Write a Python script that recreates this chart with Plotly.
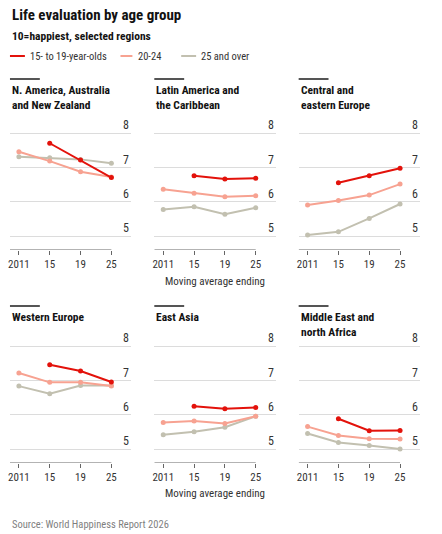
import plotly.graph_objects as go

years = ["2011", "15", "19", "25"]
regions = ["N. America, Australia<br>and New Zealand", "Latin America and<br>the Caribbean",
           "Central and<br>eastern Europe", "Western Europe", "East Asia",
           "Middle East and<br>north Africa"]
series_names = ["15- to 19-year-olds", "20-24", "25 and over"]

age_15_19 = [[None, 7.71, 7.22, 6.71], [None, 6.76, 6.67, 6.69], [None, 6.56, 6.76, 6.98],
             [None, 7.46, 7.28, 6.96], [None, 6.25, 6.18, 6.22], [None, 5.89, 5.54, 5.55]]
age_20_24 = [[7.46, 7.19, 6.88, 6.73], [6.37, 6.25, 6.15, 6.18], [5.91, 6.04, 6.20, 6.52],
             [7.22, 6.95, 6.95, 6.84], [5.78, 5.82, 5.75, 5.96], [5.66, 5.40, 5.31, 5.30]]
age_25_plus = [[7.32, 7.29, 7.24, 7.13], [5.78, 5.86, 5.64, 5.83], [5.04, 5.13, 5.52, 5.94],
               [6.84, 6.62, 6.86, 6.86], [5.42, 5.51, 5.64, 5.96], [5.46, 5.20, 5.11, 5.01]]
y_ticks = [5, 6, 7, 8]

colors = {"15- to 19-year-olds": "#e3120b", "20-24": "#f7a291", "25 and over": "#c2c0b0"}
FONT = "Liberation Sans Narrow, Roboto Condensed, Roboto, sans-serif"
W, H = 442, 534
px_x = lambda p: p / W
px_y = lambda p: 1 - p / H

col_px = [(8, 130), (153, 275), (298, 420)]
row_px = [(123, 250), (336, 463)]
x_range = [-0.29, 3.65]
y_range = [4.6, 8.3]

fig = go.Figure()

for i in range(6):
    r, c = divmod(i, 3)
    ax = "" if i == 0 else str(i + 1)
    # grey first, then pink, red on top
    for name, data in [("25 and over", age_25_plus), ("20-24", age_20_24), ("15- to 19-year-olds", age_15_19)]:
        fig.add_trace(go.Scatter(x=years, y=data[i], mode="lines+markers", name=name,
                                 line=dict(color=colors[name], width=2),
                                 marker=dict(color=colors[name], size=5),
                                 showlegend=False, xaxis="x" + ax, yaxis="y" + ax,
                                 hoverinfo="skip"))
    x0, x1 = col_px[c]
    y0, y1 = row_px[r]
    fig.layout["xaxis" + ax] = dict(domain=[px_x(x0), px_x(x1)], anchor="y" + ax, type="category",
                                    range=x_range, showgrid=False, zeroline=False, showline=False,
                                    ticks="outside", ticklen=4, tickcolor="#666", tickwidth=1,
                                    tickfont=dict(family=FONT, size=11, color="#333"))
    fig.layout["yaxis" + ax] = dict(domain=[px_y(y1), px_y(y0)], anchor="x" + ax, range=y_range,
                                    tickvals=y_ticks, showticklabels=False,
                                    showgrid=True, gridcolor="#dcdcdc", gridwidth=1, zeroline=False,
                                    showline=False, ticks="")
    # y labels sit above the gridlines at the right edge
    for t in y_ticks:
        fig.add_annotation(xref="x" + ax + " domain", yref="y" + ax, x=1, y=t, xanchor="right",
                           yanchor="bottom", showarrow=False, text=str(t), yshift=-1,
                           font=dict(family=FONT, size=12, color="#333"))
    # x baseline up to the last tick
    fig.add_shape(type="line", xref="x" + ax, yref="y" + ax, x0=x_range[0], x1=3,
                  y0=y_range[0], y1=y_range[0], line=dict(color="#666", width=1))
    # separator and panel title
    sep_y = 79 if r == 0 else 306
    fig.add_shape(type="line", xref="paper", yref="paper", x0=px_x(x0), x1=px_x(x0 + 30),
                  y0=px_y(sep_y), y1=px_y(sep_y), line=dict(color="#555", width=2))
    fig.add_annotation(xref="paper", yref="paper", x=px_x(x0), y=px_y(sep_y + 2),
                       xanchor="left", yanchor="top", align="left", showarrow=False,
                       text="<b>" + regions[i] + "</b>",
                       font=dict(family=FONT, size=11.5, color="#121212"))

for yy in (281, 493):
    fig.add_annotation(xref="paper", yref="paper", x=px_x(214), y=px_y(yy), xanchor="center",
                       yanchor="middle", showarrow=False, text="Moving average ending",
                       font=dict(family=FONT, size=11, color="#333"))

# legend
legend_pos = [(8, 23, 26), (119, 131, 135), (180, 195, 198)]
for name, (s0, s1, tx) in zip(series_names, legend_pos):
    fig.add_shape(type="line", xref="paper", yref="paper", x0=px_x(s0), x1=px_x(s1),
                  y0=px_y(56), y1=px_y(56), line=dict(color=colors[name], width=2))
    fig.add_annotation(xref="paper", yref="paper", x=px_x(tx), y=px_y(56), xanchor="left",
                       yanchor="middle", showarrow=False, text=name,
                       font=dict(family=FONT, size=10.5, color="#333"))

fig.add_annotation(xref="paper", yref="paper", x=px_x(8), y=px_y(15), xanchor="left", yanchor="middle",
                   showarrow=False, text="<b>Life evaluation by age group</b>",
                   font=dict(family=FONT, size=15, color="#121212"))
fig.add_annotation(xref="paper", yref="paper", x=px_x(8), y=px_y(36), xanchor="left", yanchor="middle",
                   showarrow=False, text="<b>10=happiest, selected regions</b>",
                   font=dict(family=FONT, size=11.5, color="#121212"))
fig.add_annotation(xref="paper", yref="paper", x=px_x(8), y=px_y(524), xanchor="left", yanchor="middle",
                   showarrow=False, text="Source: World Happiness Report 2026",
                   font=dict(family=FONT, size=10.5, color="#7f7f7f"))

fig.update_layout(width=W, height=H, margin=dict(l=0, r=0, t=0, b=0),
                  paper_bgcolor="white", plot_bgcolor="white", showlegend=False)

# drop the default body margin so the figure sits at the window's top-left corner
fig.write_html("out.html", config={"displayModeBar": False},
               post_script="document.body.style.margin='0';")
